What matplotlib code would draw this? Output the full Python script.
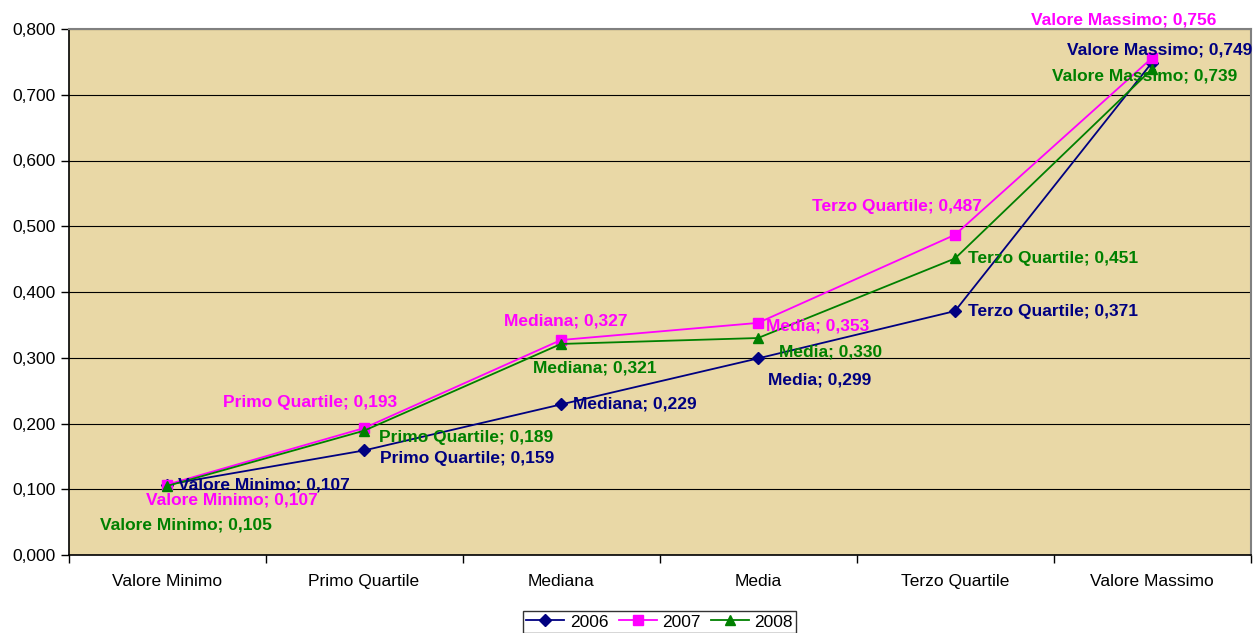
import matplotlib
matplotlib.use("Agg")
import matplotlib.pyplot as plt
from matplotlib.ticker import FuncFormatter, FixedLocator

plt.rcParams['font.family'] = ['Liberation Sans', 'DejaVu Sans']

categories = ["Valore Minimo", "Primo Quartile", "Mediana", "Media", "Terzo Quartile", "Valore Massimo"]
series_names = ["2006", "2007", "2008"]
values_2006 = [0.107, 0.159, 0.229, 0.299, 0.371, 0.749]
values_2007 = [0.107, 0.193, 0.327, 0.353, 0.487, 0.756]
values_2008 = [0.105, 0.189, 0.321, 0.330, 0.451, 0.739]
y_ticks = [0.0, 0.1, 0.2, 0.3, 0.4, 0.5, 0.6, 0.7, 0.8]

colors = ["#000080", "#FF00FF", "#008000"]
markers = ["D", "s", "^"]
msizes = [6, 6.5, 7.5]

# label placement (ha, dx px, dy px downward) per series per point
label_pos = [
    [("left", 11, 0), ("left", 16, 8), ("left", 12, 0), ("left", 10, 22), ("left", 13, 0), ("center", 8, -13)],
    [("center", 65, 15), ("center", -54, -26), ("center", 5, -19), ("left", 8, 3), ("center", -58, -28), ("center", -28, -38)],
    [("center", 19, 39), ("left", 15, 7), ("center", 34, 24), ("left", 21, 14), ("left", 13, 0), ("center", -7, 7)],
]

fig = plt.figure(figsize=(12.55, 6.33), dpi=100)
ax = fig.add_axes([68.5 / 1255, 1 - 555 / 633, (1250.5 - 68.5) / 1255, (555 - 29) / 633])
ax.set_facecolor("#E9D8A6")

x = list(range(len(categories)))
all_vals = [values_2006, values_2007, values_2008]
lines = []
for i, vals in enumerate(all_vals):
    ln, = ax.plot(x, vals, color=colors[i], marker=markers[i], markersize=msizes[i],
                  linewidth=1.3, label=series_names[i], zorder=3)
    lines.append(ln)
    for j, v in enumerate(vals):
        ha, dx, dy = label_pos[i][j]
        txt = f"{categories[j]}; {v:.3f}".replace(".", ",")
        ax.annotate(txt, (x[j], v), xytext=(dx, -dy), textcoords="offset pixels",
                    ha=ha, va="center", fontsize=12.5, fontweight="bold",
                    color=colors[i], zorder=4, annotation_clip=False)

ax.set_xlim(-0.5, len(categories) - 0.5)
ax.set_ylim(0, 0.8)
ax.set_yticks(y_ticks)
ax.yaxis.set_major_formatter(FuncFormatter(lambda v, p: f"{v:.3f}".replace(".", ",")))
ax.yaxis.grid(True, color="black", linewidth=0.8)
ax.set_axisbelow(True)

ax.set_xticks(x)
ax.set_xticklabels(categories)
ax.xaxis.set_minor_locator(FixedLocator([k - 0.5 for k in range(len(categories) + 1)]))
ax.tick_params(axis="x", which="major", length=0, pad=14, labelsize=12.5)
ax.tick_params(axis="x", which="minor", length=6, direction="out", width=1)
ax.tick_params(axis="y", length=6, direction="out", width=1, labelsize=12.5, pad=3)

for s in ["top", "right"]:
    ax.spines[s].set_color("#808080")
    ax.spines[s].set_linewidth(1.5)
for s in ["left", "bottom"]:
    ax.spines[s].set_color("black")
    ax.spines[s].set_linewidth(1.2)

leg = fig.legend(handles=lines, labels=series_names, loc="lower center",
                 bbox_to_anchor=(659.5 / 1255, 0.0), ncol=3, frameon=True,
                 fontsize=12.5, fancybox=False, edgecolor="black",
                 handlelength=2.2, handletextpad=0.3, columnspacing=0.6,
                 borderpad=0.2, borderaxespad=0.0)
leg.get_frame().set_linewidth(1.0)

fig.savefig("out.png", dpi=100, facecolor="white")
